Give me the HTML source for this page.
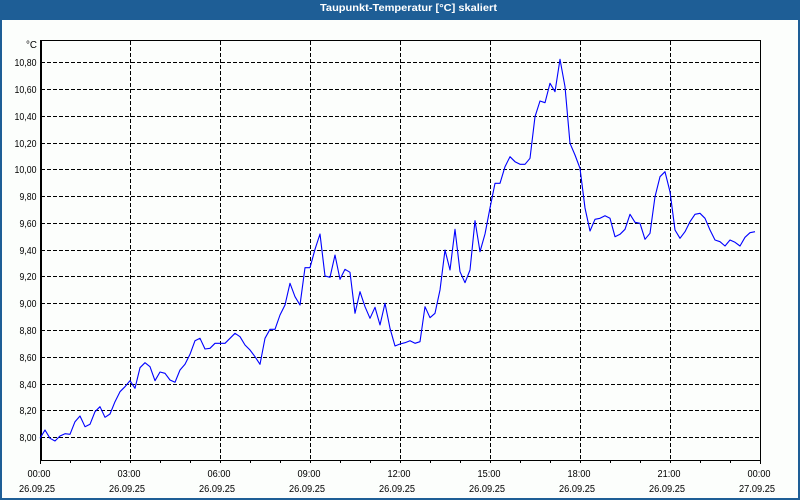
<!DOCTYPE html>
<html><head><meta charset="utf-8">
<style>
html,body{margin:0;padding:0;background:#fff;}
svg{display:block;}
text{font-family:"Liberation Sans",Arial,sans-serif;}
</style></head>
<body>
<svg width="800" height="500" viewBox="0 0 800 500" xmlns="http://www.w3.org/2000/svg">
<rect x="0" y="0" width="800" height="500" fill="#1e5e96"/>
<rect x="2" y="20" width="796" height="478" fill="#fcfefc"/>
<text x="408.5" y="11" font-size="10.5" font-weight="bold" fill="#ffffff" text-anchor="middle" textLength="177" lengthAdjust="spacingAndGlyphs">Taupunkt-Temperatur [°C] skaliert</text>

<g stroke="#000" stroke-width="1" stroke-dasharray="4,2" fill="none" shape-rendering="crispEdges">
<line x1="41" y1="437.5" x2="760" y2="437.5"/>
<line x1="41" y1="410.5" x2="760" y2="410.5"/>
<line x1="41" y1="384.5" x2="760" y2="384.5"/>
<line x1="41" y1="357.5" x2="760" y2="357.5"/>
<line x1="41" y1="330.5" x2="760" y2="330.5"/>
<line x1="41" y1="303.5" x2="760" y2="303.5"/>
<line x1="41" y1="276.5" x2="760" y2="276.5"/>
<line x1="41" y1="250.5" x2="760" y2="250.5"/>
<line x1="41" y1="223.5" x2="760" y2="223.5"/>
<line x1="41" y1="196.5" x2="760" y2="196.5"/>
<line x1="41" y1="169.5" x2="760" y2="169.5"/>
<line x1="41" y1="143.5" x2="760" y2="143.5"/>
<line x1="41" y1="116.5" x2="760" y2="116.5"/>
<line x1="41" y1="89.5" x2="760" y2="89.5"/>
<line x1="41" y1="62.5" x2="760" y2="62.5"/>
<line x1="130.5" y1="41" x2="130.5" y2="460"/>
<line x1="220.5" y1="41" x2="220.5" y2="460"/>
<line x1="310.5" y1="41" x2="310.5" y2="460"/>
<line x1="400.5" y1="41" x2="400.5" y2="460"/>
<line x1="490.5" y1="41" x2="490.5" y2="460"/>
<line x1="580.5" y1="41" x2="580.5" y2="460"/>
<line x1="670.5" y1="41" x2="670.5" y2="460"/>
</g>

<g stroke="#000" stroke-width="1" fill="none" shape-rendering="crispEdges">
<line x1="40.5" y1="40.5" x2="760.5" y2="40.5"/>
<line x1="760.5" y1="40" x2="760.5" y2="464"/>
<line x1="40" y1="460.5" x2="761" y2="460.5"/>
<line x1="40.5" y1="40" x2="40.5" y2="464"/>
<line x1="41.5" y1="40" x2="41.5" y2="461"/>
<line x1="70.5" y1="460" x2="70.5" y2="463"/>
<line x1="100.5" y1="460" x2="100.5" y2="463"/>
<line x1="130.5" y1="460" x2="130.5" y2="463"/>
<line x1="160.5" y1="460" x2="160.5" y2="463"/>
<line x1="190.5" y1="460" x2="190.5" y2="463"/>
<line x1="220.5" y1="460" x2="220.5" y2="463"/>
<line x1="250.5" y1="460" x2="250.5" y2="463"/>
<line x1="280.5" y1="460" x2="280.5" y2="463"/>
<line x1="310.5" y1="460" x2="310.5" y2="463"/>
<line x1="340.5" y1="460" x2="340.5" y2="463"/>
<line x1="370.5" y1="460" x2="370.5" y2="463"/>
<line x1="400.5" y1="460" x2="400.5" y2="463"/>
<line x1="430.5" y1="460" x2="430.5" y2="463"/>
<line x1="460.5" y1="460" x2="460.5" y2="463"/>
<line x1="490.5" y1="460" x2="490.5" y2="463"/>
<line x1="520.5" y1="460" x2="520.5" y2="463"/>
<line x1="550.5" y1="460" x2="550.5" y2="463"/>
<line x1="580.5" y1="460" x2="580.5" y2="463"/>
<line x1="610.5" y1="460" x2="610.5" y2="463"/>
<line x1="640.5" y1="460" x2="640.5" y2="463"/>
<line x1="670.5" y1="460" x2="670.5" y2="463"/>
<line x1="700.5" y1="460" x2="700.5" y2="463"/>
<line x1="730.5" y1="460" x2="730.5" y2="463"/>
</g>

<g font-size="10" fill="#000" text-anchor="end">
<text x="37" y="48" textLength="11" lengthAdjust="spacingAndGlyphs">°C</text>
<text x="36.5" y="66" textLength="22" lengthAdjust="spacingAndGlyphs">10,80</text>
<text x="36.5" y="93" textLength="22" lengthAdjust="spacingAndGlyphs">10,60</text>
<text x="36.5" y="120" textLength="22" lengthAdjust="spacingAndGlyphs">10,40</text>
<text x="36.5" y="147" textLength="22" lengthAdjust="spacingAndGlyphs">10,20</text>
<text x="36.5" y="173" textLength="22" lengthAdjust="spacingAndGlyphs">10,00</text>
<text x="36.5" y="200" textLength="17" lengthAdjust="spacingAndGlyphs">9,80</text>
<text x="36.5" y="227" textLength="17" lengthAdjust="spacingAndGlyphs">9,60</text>
<text x="36.5" y="254" textLength="17" lengthAdjust="spacingAndGlyphs">9,40</text>
<text x="36.5" y="280" textLength="17" lengthAdjust="spacingAndGlyphs">9,20</text>
<text x="36.5" y="307" textLength="17" lengthAdjust="spacingAndGlyphs">9,00</text>
<text x="36.5" y="334" textLength="17" lengthAdjust="spacingAndGlyphs">8,80</text>
<text x="36.5" y="361" textLength="17" lengthAdjust="spacingAndGlyphs">8,60</text>
<text x="36.5" y="388" textLength="17" lengthAdjust="spacingAndGlyphs">8,40</text>
<text x="36.5" y="414" textLength="17" lengthAdjust="spacingAndGlyphs">8,20</text>
<text x="36.5" y="441" textLength="17" lengthAdjust="spacingAndGlyphs">8,00</text>
</g>

<g font-size="10" fill="#000" text-anchor="middle">
<text x="39" y="477" textLength="23" lengthAdjust="spacingAndGlyphs">00:00</text>
<text x="129" y="477" textLength="23" lengthAdjust="spacingAndGlyphs">03:00</text>
<text x="219" y="477" textLength="23" lengthAdjust="spacingAndGlyphs">06:00</text>
<text x="309" y="477" textLength="23" lengthAdjust="spacingAndGlyphs">09:00</text>
<text x="399" y="477" textLength="23" lengthAdjust="spacingAndGlyphs">12:00</text>
<text x="489" y="477" textLength="23" lengthAdjust="spacingAndGlyphs">15:00</text>
<text x="579" y="477" textLength="23" lengthAdjust="spacingAndGlyphs">18:00</text>
<text x="669" y="477" textLength="23" lengthAdjust="spacingAndGlyphs">21:00</text>
<text x="759" y="477" textLength="23" lengthAdjust="spacingAndGlyphs">00:00</text>
<text x="37" y="492" textLength="36" lengthAdjust="spacingAndGlyphs">26.09.25</text>
<text x="127" y="492" textLength="36" lengthAdjust="spacingAndGlyphs">26.09.25</text>
<text x="217" y="492" textLength="36" lengthAdjust="spacingAndGlyphs">26.09.25</text>
<text x="307" y="492" textLength="36" lengthAdjust="spacingAndGlyphs">26.09.25</text>
<text x="397" y="492" textLength="36" lengthAdjust="spacingAndGlyphs">26.09.25</text>
<text x="487" y="492" textLength="36" lengthAdjust="spacingAndGlyphs">26.09.25</text>
<text x="577" y="492" textLength="36" lengthAdjust="spacingAndGlyphs">26.09.25</text>
<text x="667" y="492" textLength="36" lengthAdjust="spacingAndGlyphs">26.09.25</text>
<text x="757" y="492" textLength="36" lengthAdjust="spacingAndGlyphs">27.09.25</text>
</g>

<polyline fill="none" stroke="#0000ff" stroke-width="1.1" stroke-linejoin="round" points="
40,438.3 45,430 50,438.3 55,441 60,436 65,433.7 70,434.3 75,421.7 80,416 85,426.7
90,424.3 95,411.7 100,406.7 105,417.3 110,414 115,401.7 120,391.7 125,386.7 130,380.7 135,388.3
140,367.7 145,362.7 150,366.7 155,380.7 160,372 165,373.3 170,380 175,382.3 180,370 185,364.3
190,354.3 195,340.7 200,338.3 205,349 210,348.3 215,343.3 220,343.3 225,343.3 230,338.3 235,333.3
240,336.7 245,345 250,350 255,356.7 260,364.3 265,338.3 270,329.3 275,329.3 280,315 285,305
290,283.3 295,296.7 300,305 305,267.7 310,267.7 315,249.3 320,234 325,276 330,277.3 335,255
340,279.3 345,269.3 350,272.3 355,313.3 360,291.7 365,306.7 370,318.3 375,307.3 380,325 385,303.3
390,328.3 395,346 400,344 405,342.7 410,340.7 415,343.3 420,341.7 425,306.7 430,317.7 435,313.3
440,290 445,250 450,270 455,229.3 460,271.7 465,282.7 470,270 475,220.7 480,251.7 485,234
490,208 495,183.3 500,183.3 505,166.7 510,156.7 515,161.7 520,164.3 525,164.3 530,158.3 535,116.7
540,101 545,102.7 550,83.3 555,91.7 560,59.3 565,86.7 570,143.3 575,155 580,168.3 585,208
590,231 595,219.3 600,218.3 605,215.7 610,218.3 615,236.7 620,234.3 625,229.3 630,214.3 635,222.3
640,223.3 645,239.3 650,233.3 655,196.7 660,176.7 665,171.7 670,191.7 675,230 680,238.3 685,231.7
690,221.7 695,214.3 700,213.3 705,218.3 710,230 715,240 720,241.7 725,246 730,240 735,242.3
740,246 745,237.3 750,232.7 755,231.7"/>
</svg>
</body></html>
